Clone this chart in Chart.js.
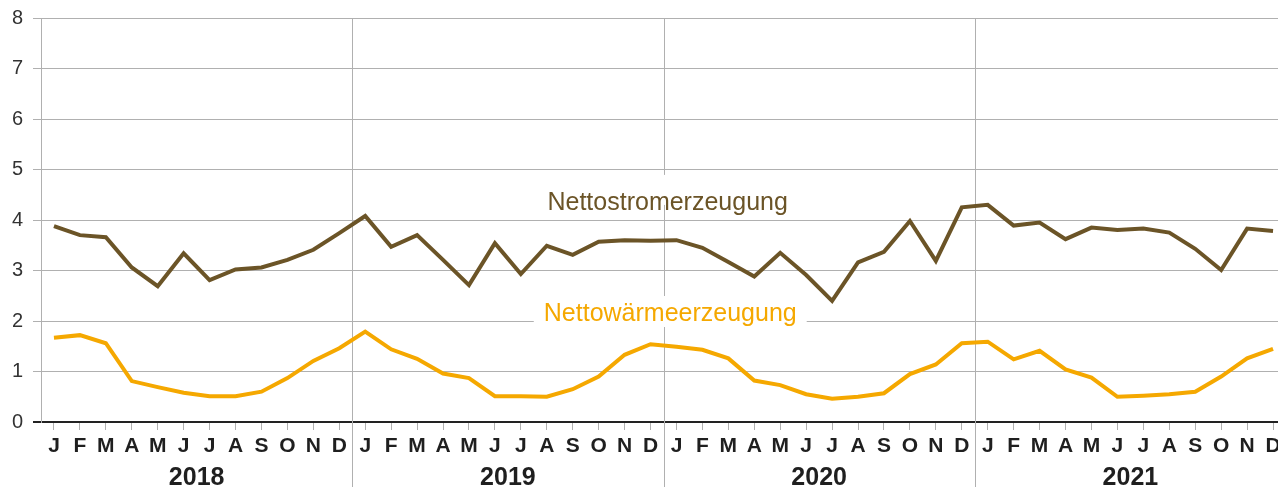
<!DOCTYPE html>
<html>
<head>
<meta charset="utf-8">
<script src="https://cdn.jsdelivr.net/npm/chart.js@4.4.1/dist/chart.umd.min.js"></script>
<style>
  html, body { margin:0; padding:0; background:#fff; overflow:hidden; }
  #wrap { width:1286px; height:487px; position:relative; }
</style>
</head>
<body>
<div id="wrap"><canvas id="c"></canvas></div>
<script>
const months = ['J','F','M','A','M','J','J','A','S','O','N','D'];
const years = ['2018','2019','2020','2021'];
const yTicks = [0,1,2,3,4,5,6,7,8];

// Nettostromerzeugung, monthly 2018-2021
const strom = [3.88,3.70,3.66,3.06,2.69,3.34,2.81,3.02,3.06,3.21,3.41,3.74,
  4.08,3.47,3.70,3.21,2.71,3.54,2.93,3.49,3.31,3.57,3.60,3.59,
  3.60,3.45,3.17,2.88,3.35,2.91,2.40,3.16,3.37,3.98,3.19,4.25,
  4.30,3.89,3.95,3.62,3.85,3.80,3.83,3.75,3.43,3.01,3.83,3.78];
// Nettowärmeerzeugung
const waerme = [1.67,1.72,1.56,0.81,0.69,0.58,0.51,0.51,0.60,0.87,1.21,1.46,
  1.79,1.44,1.25,0.96,0.87,0.51,0.51,0.50,0.65,0.90,1.33,1.54,
  1.49,1.43,1.26,0.82,0.73,0.55,0.46,0.50,0.57,0.95,1.14,1.56,
  1.59,1.24,1.41,1.04,0.88,0.50,0.52,0.55,0.60,0.90,1.26,1.45];

const labels = years.flatMap(() => months);
const BROWN = '#6b5427', ORANGE = '#f5a800', GRID = '#b0b0b0';

// series names drawn inside the plot, anchored on the scales
const seriesLabels = [
  { text:'Nettostromerzeugung', color:BROWN, x:23.66, y:4.2, boxTop:35, boxBottom:-5 },
  { text:'Nettowärmeerzeugung', color:ORANGE, x:23.76, y:2.0, boxTop:25, boxBottom:6 }
];

const overlay = {
  id:'overlay',
  beforeDatasetsDraw(chart){
    const {ctx, chartArea, scales:{x, y}} = chart;
    ctx.save();
    // year separators
    ctx.strokeStyle = GRID; ctx.lineWidth = 1;
    for(let i = 12; i < labels.length; i += 12){
      const px = Math.round((x.getPixelForValue(i-1) + x.getPixelForValue(i)) / 2) + 0.5;
      ctx.beginPath(); ctx.moveTo(px, chartArea.top); ctx.lineTo(px, chart.height); ctx.stroke();
    }
    ctx.font = '25px "Liberation Sans", Arial, sans-serif';
    ctx.textAlign = 'center'; ctx.textBaseline = 'alphabetic';
    seriesLabels.forEach(l => {
      const cx = x.getPixelForValue(l.x), by = y.getPixelForValue(l.y);
      const w = ctx.measureText(l.text).width;
      ctx.fillStyle = '#fff';
      ctx.fillRect(cx - w/2 - 10, by - l.boxTop, w + 20, l.boxTop + l.boxBottom);
      ctx.fillStyle = l.color;
      ctx.fillText(l.text, cx, by);
    });
    ctx.restore();
  }
};

new Chart(document.getElementById('c'), {
  type:'line',
  data:{ labels, datasets:[
    { label:'Nettostromerzeugung', data:strom, borderColor:BROWN, borderWidth:4, pointRadius:0, tension:0 },
    { label:'Nettowärmeerzeugung', data:waerme, borderColor:ORANGE, borderWidth:4, pointRadius:0, tension:0 }
  ]},
  options:{
    responsive:true, maintainAspectRatio:false, animation:false,
    layout:{ padding:{ top:18, right:0, bottom:0, left:0 } },
    plugins:{ legend:{display:false}, tooltip:{enabled:false} },
    scales:{
      x:{ type:'category', offset:true, weight:0,
        grid:{ drawOnChartArea:false, drawTicks:true, tickLength:8, color:GRID, offset:false },
        border:{ color:'#222', width:2 },
        ticks:{ autoSkip:false, maxRotation:0, color:'#1f1f1f', padding:4,
          font:{ family:'"Liberation Sans", Arial, sans-serif', size:21, weight:'bold' } },
        afterFit(s){ s.height = 33; s.paddingLeft = 0; s.paddingRight = 0; }
      },
      x2:{ type:'category', labels:years, offset:true, position:'bottom', weight:1,
        grid:{ display:false }, border:{ display:false },
        ticks:{ color:'#1f1f1f', padding:0,
          font:{ family:'"Liberation Sans", Arial, sans-serif', size:25, weight:'bold' } },
        afterFit(s){ s.height = 32; s.paddingLeft = 0; s.paddingRight = 0; }
      },
      y:{ min:0, max:8,
        afterBuildTicks(s){ s.ticks = yTicks.map(v => ({value:v})); },
        grid:{ color:c => c.tick && c.tick.value === 0 ? '#222' : GRID,
               lineWidth:c => c.tick && c.tick.value === 0 ? 2 : 1, tickLength:8 },
        border:{ color:GRID, width:1 },
        ticks:{ color:'#333', padding:10,
          font:{ family:'"Liberation Sans", Arial, sans-serif', size:20 } },
        afterFit(s){ s.width = 41; s.paddingTop = 0; s.paddingBottom = 0; }
      }
    }
  },
  plugins:[overlay]
});
</script>
</body>
</html>
